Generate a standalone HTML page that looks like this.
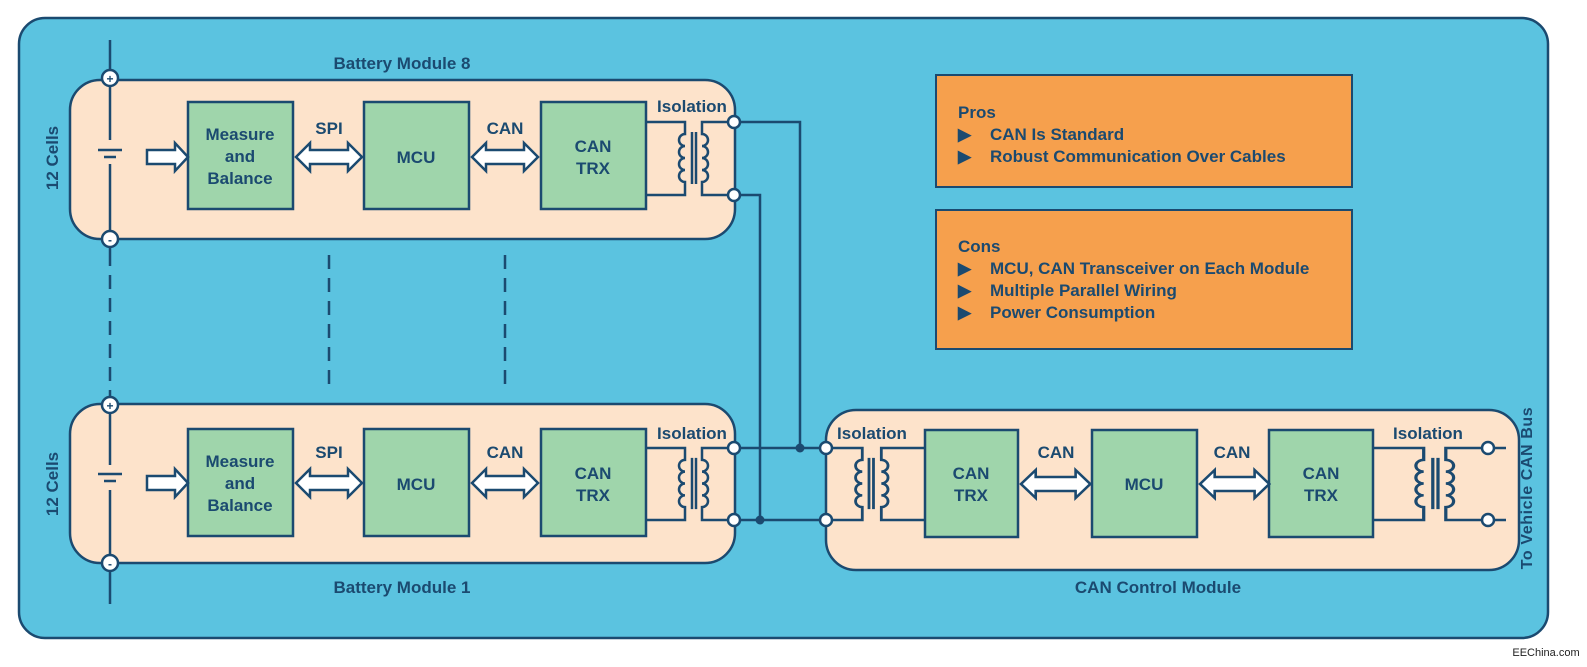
<!DOCTYPE html>
<html><head><meta charset="utf-8"><style>
html,body{margin:0;padding:0;background:#fff}
svg{display:block}
text{font-family:"Liberation Sans",sans-serif;font-weight:bold;fill:#1b4a70}
</style></head><body>
<svg width="1587" height="667" viewBox="0 0 1587 667" xmlns="http://www.w3.org/2000/svg">
<defs>
<g id="tx" fill="none" stroke="#1b4a70" stroke-width="2.5">
  <path d="M0,0 H39 V12 a6,6 0 0 0 0,12 a6,6 0 0 0 0,12 a6,6 0 0 0 0,12 a6,6 0 0 0 0,12 V73 H0"/>
  <path d="M88,0 H56 V12 a6,6 0 0 1 0,12 a6,6 0 0 1 0,12 a6,6 0 0 1 0,12 a6,6 0 0 1 0,12 V73 H88"/>
  <path d="M46,10 V62 M50,10 V62"/>
</g>
<g id="arr" fill="#fff" stroke="#1b4a70" stroke-width="2.5">
  <path d="M0,0 L14,-14 V-7 H52 V-14 L66,0 L52,14 V7 H14 V14 Z"/>
</g>
</defs>
<rect x="19" y="18" width="1529" height="620" rx="26" fill="#5bc3e0" stroke="#1b4a70" stroke-width="2.5"/>

<rect x="70" y="80" width="665" height="159" rx="30" fill="#fde3cb" stroke="#1b4a70" stroke-width="2.5"/>
<rect x="70" y="404" width="665" height="159" rx="30" fill="#fde3cb" stroke="#1b4a70" stroke-width="2.5"/>
<rect x="826" y="410" width="693" height="160" rx="30" fill="#fde3cb" stroke="#1b4a70" stroke-width="2.5"/>

<g stroke="#1b4a70" stroke-width="2.5" fill="none">
<path d="M110,40 V70 M110,86 V140 M110,164 V231 M110,247 V252 M110,395 V397 M110,413 V465 M110,490 V555 M110,571 V604"/>
<path d="M110,252 V395 M329,255 V390 M505,255 V390" stroke-dasharray="14,9"/>
<path d="M98,150 H122 M104,157 H116 M98,474 H122 M104,481 H116"/>
<path d="M740,122 H800 V448 M740,195 H760 V520 M740,448 H820 M740,520 H820 M1494,448 H1506 M1494,520 H1506"/>
</g>
<g fill="#fff" stroke="#1b4a70" stroke-width="2.5">
<circle cx="110" cy="78" r="8"/><circle cx="110" cy="239" r="8"/>
<circle cx="110" cy="405" r="8"/><circle cx="110" cy="563" r="8"/>
</g>
<g font-size="12" text-anchor="middle"><text x="110" y="83">+</text><text x="110" y="244">-</text><text x="110" y="410">+</text><text x="110" y="568">-</text></g>
<circle cx="800" cy="448" r="4.5" fill="#1b4a70"/><circle cx="760" cy="520" r="4.5" fill="#1b4a70"/>

<use href="#tx" transform="translate(646,122)"/>
<use href="#tx" transform="translate(646,448) scale(1,0.986)"/>
<use href="#tx" transform="translate(925,448) scale(-1.12,0.986)"/>
<use href="#tx" transform="translate(1373,448) scale(1.3,0.986)"/>
<g fill="#fff" stroke="#1b4a70" stroke-width="2.5">
<circle cx="734" cy="122" r="6"/><circle cx="734" cy="195" r="6"/>
<circle cx="734" cy="448" r="6"/><circle cx="734" cy="520" r="6"/>
<circle cx="826" cy="448" r="6"/><circle cx="826" cy="520" r="6"/>
<circle cx="1488" cy="448" r="6"/><circle cx="1488" cy="520" r="6"/>
</g>

<g fill="#9fd5ab" stroke="#1b4a70" stroke-width="2.5">
<rect x="188" y="102" width="105" height="107"/><rect x="364" y="102" width="105" height="107"/><rect x="541" y="102" width="105" height="107"/>
<rect x="188" y="429" width="105" height="107"/><rect x="364" y="429" width="105" height="107"/><rect x="541" y="429" width="105" height="107"/>
<rect x="925" y="430" width="93" height="107"/><rect x="1092" y="430" width="105" height="107"/><rect x="1269" y="430" width="104" height="107"/>
</g>

<g fill="#fff" stroke="#1b4a70" stroke-width="2.5">
<path d="M147,150 H175 V143 L188,157 L175,171 V164 H147 Z"/>
<path d="M147,476 H175 V469 L188,483 L175,497 V490 H147 Z"/>
</g>
<use href="#arr" transform="translate(296,157)"/>
<use href="#arr" transform="translate(472,157)"/>
<use href="#arr" transform="translate(296,483)"/>
<use href="#arr" transform="translate(472,483)"/>
<use href="#arr" transform="translate(1021,484) scale(1.05,1)"/>
<use href="#arr" transform="translate(1200,484) scale(1.05,1)"/>

<rect x="936" y="75" width="416" height="112" fill="#f6a04d" stroke="#1b4a70" stroke-width="2"/>
<rect x="936" y="210" width="416" height="139" fill="#f6a04d" stroke="#1b4a70" stroke-width="2"/>
<g font-size="17">
<text x="958" y="118">Pros</text>
<text x="958" y="140">▶</text><text x="990" y="140">CAN Is Standard</text>
<text x="958" y="162">▶</text><text x="990" y="162">Robust Communication Over Cables</text>
<text x="958" y="252">Cons</text>
<text x="958" y="274">▶</text><text x="990" y="274">MCU, CAN Transceiver on Each Module</text>
<text x="958" y="296">▶</text><text x="990" y="296">Multiple Parallel Wiring</text>
<text x="958" y="318">▶</text><text x="990" y="318">Power Consumption</text>
</g>

<g font-size="17" text-anchor="middle">
<text x="402" y="69">Battery Module 8</text>
<text x="402" y="593">Battery Module 1</text>
<text x="1158" y="593">CAN Control Module</text>
<text x="692" y="112">Isolation</text>
<text x="692" y="439">Isolation</text>
<text x="872" y="439">Isolation</text>
<text x="1428" y="439">Isolation</text>
<text x="329" y="134">SPI</text><text x="505" y="134">CAN</text>
<text x="329" y="458">SPI</text><text x="505" y="458">CAN</text>
<text x="1056" y="458">CAN</text><text x="1232" y="458">CAN</text>
<text x="240" y="140">Measure</text><text x="240" y="162">and</text><text x="240" y="184">Balance</text>
<text x="240" y="467">Measure</text><text x="240" y="489">and</text><text x="240" y="511">Balance</text>
<text x="416" y="163">MCU</text><text x="416" y="490">MCU</text><text x="1144" y="490">MCU</text>
<text x="593" y="152">CAN</text><text x="593" y="174">TRX</text>
<text x="593" y="479">CAN</text><text x="593" y="501">TRX</text>
<text x="971" y="479">CAN</text><text x="971" y="501">TRX</text>
<text x="1321" y="479">CAN</text><text x="1321" y="501">TRX</text>
<text transform="translate(58,158) rotate(-90)">12 Cells</text>
<text transform="translate(58,484) rotate(-90)">12 Cells</text>
<text transform="translate(1532,488) rotate(-90)" font-size="16" letter-spacing="0.6">To Vehicle CAN Bus</text>
</g>
<text x="1546" y="656" font-size="11" text-anchor="middle" style="font-weight:normal;fill:#222">EEChina.com</text>
</svg>
</body></html>
